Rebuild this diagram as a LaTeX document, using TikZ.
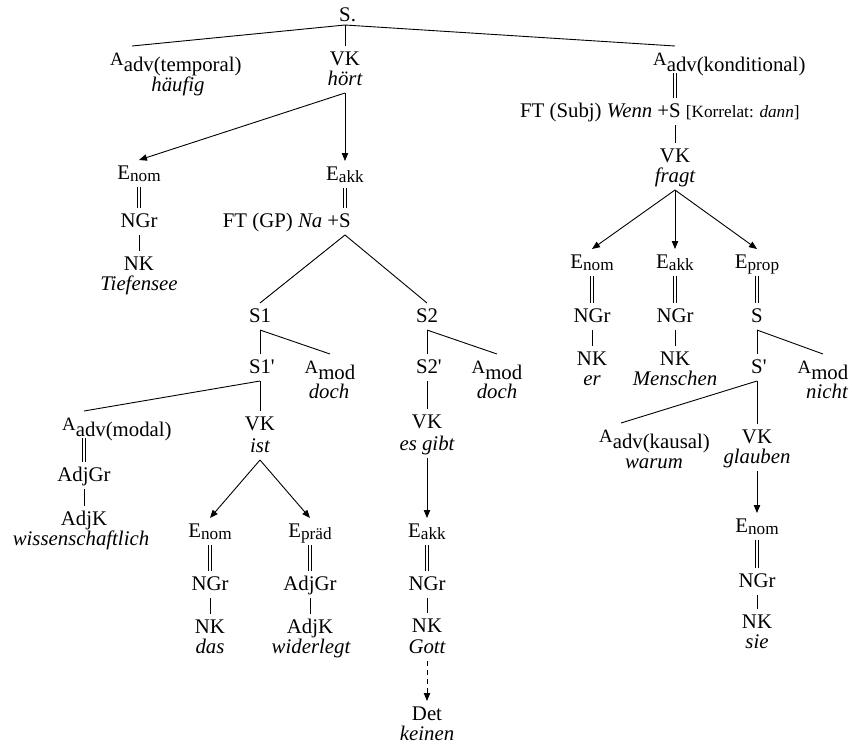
\documentclass[tikz,border=0pt]{standalone}
\usepackage{fontspec}
\setmainfont{Liberation Serif}
\usepackage{tikz}
\usetikzlibrary{arrows.meta}

\newcommand{\catfont}{\fontsize{10.4}{12}\selectfont}
\newcommand{\Esub}[1]{E\raisebox{-1pt}{\fontsize{8.6}{9}\selectfont #1}}
\newcommand{\Asub}[1]{{\fontsize{9.4}{10}\selectfont A}\raisebox{-3pt}{#1}}
\newcommand{\pr}{\rlap{\textquotesingle}}

\tikzset{
  cat/.style={font=\catfont, inner sep=0pt, outer sep=2.5pt,
    text height=7pt, text depth=1.5pt, anchor=base},
  word/.style={cat, font=\catfont\itshape},
  tie/.style={line width=0.45pt},
  equiv/.style={tie, double, double distance=0.9pt},
  dep/.style={tie, -{Triangle[length=4pt, width=3.2pt]}},
  depopt/.style={dep, dash pattern=on 2.5pt off 2pt}
}

\begin{document}
\begin{tikzpicture}[x=0.5pt, y=-0.5pt]
  \useasboundingbox (0,0) rectangle (852,745);

  % main clause
  \node[cat, outer sep=0.5pt] (root) at (345,21) {S\rlap{.}};
  \node[cat] (atemp) at (132,65) {\Asub{adv\rlap{(temporal)}}};
  \node[word] (haeufig) at (178,91) {häufig};
  \node[cat] (vk1) at (345,65) {VK};
  \node[word] (hoert) at (345,85) {hört};
  \node[cat] (akond) at (675,65) {\Asub{adv\rlap{(konditional)}}};

  % subject
  \node[cat] (enom1) at (139,179) {\Esub{nom}};
  \node[cat] (ngr1) at (139,227) {NGr};
  \node[cat] (nk1) at (139,270) {NK};
  \node[word] (tiefensee) at (139,290) {Tiefensee};

  % object clause
  \node[cat] (eakk1) at (345,180) {\Esub{akk}};
  \node[cat] (sgp) at (345,227) {\llap{FT (GP) \textit{Na} +}S};
  \node[cat] (s1) at (260,322) {S1};
  \node[cat] (s2) at (427,322) {S2};

  \node[cat] (s1p) at (260,373) {S1\pr};
  \node[cat] (amod1) at (330,373) {\Asub{mod}};
  \node[word] (doch1) at (329,398) {doch};
  \node[cat] (amodal) at (84,430) {\Asub{adv\rlap{(modal)}}};
  \node[cat] (adjgr1) at (84,481) {AdjGr};
  \node[cat] (adjk1) at (84,525) {AdjK};
  \node[word] (wiss) at (81,545) {wissenschaftlich};
  \node[cat] (vk2) at (260,430) {VK};
  \node[word] (ist) at (260,452) {ist};
  \node[cat] (enom2) at (210,537) {\Esub{nom}};
  \node[cat] (ngr2) at (210,590) {NGr};
  \node[cat] (nk2) at (210,633) {NK};
  \node[word] (das) at (210,653) {das};
  \node[cat] (epraed) at (310,537) {\Esub{präd}};
  \node[cat] (adjgr2) at (310,590) {AdjGr};
  \node[cat] (adjk2) at (310,633) {AdjK};
  \node[word] (widerlegt) at (311,653) {widerlegt};

  \node[cat] (s2p) at (427,373) {S2\pr};
  \node[cat] (amod2) at (497,373) {\Asub{mod}};
  \node[word] (doch2) at (497,398) {doch};
  \node[cat] (vk3) at (427,428) {VK};
  \node[word] (esgibt) at (427,450) {es gibt};
  \node[cat] (eakk2) at (427,537) {\Esub{akk}};
  \node[cat] (ngr3) at (427,590) {NGr};
  \node[cat] (nk3) at (427,632) {NK};
  \node[word] (gott) at (427,653) {Gott};
  \node[cat] (det) at (427,720) {Det};
  \node[word] (keinen) at (427,740) {keinen};

  % conditional clause
  \node[cat] (ssubj) at (675,117)
    {\llap{FT (Subj) \textit{Wenn} +}S\rlap{ {\fontsize{8.6}{9}\selectfont[Korrelat: \textit{dann}]}}};
  \node[cat] (vk4) at (675,162) {VK};
  \node[word] (fragt) at (675,182) {fragt};
  \node[cat] (enom3) at (592,268) {\Esub{nom}};
  \node[cat] (ngr4) at (592,322) {NGr};
  \node[cat] (nk4) at (592,365) {NK};
  \node[word] (er) at (592,385) {er};
  \node[cat] (eakk3) at (675,268) {\Esub{akk}};
  \node[cat] (ngr5) at (675,322) {NGr};
  \node[cat] (nk5) at (675,365) {NK};
  \node[word] (menschen) at (675,385) {Menschen};
  \node[cat] (eprop) at (757,268) {\Esub{prop}};
  \node[cat] (sprop) at (757,322) {S};
  \node[cat] (sp) at (757,373) {S\pr};
  \node[cat] (amod3) at (823,373) {\Asub{mod}};
  \node[word] (nicht) at (827,398) {nicht};
  \node[cat] (akaus) at (621,442) {\Asub{adv\rlap{(kausal)}}};
  \node[word] (warum) at (654,468) {warum};
  \node[cat] (vk5) at (757,443) {VK};
  \node[word] (glauben) at (757,463) {glauben};
  \node[cat] (enom4) at (757,532) {\Esub{nom}};
  \node[cat] (ngr6) at (757,587) {NGr};
  \node[cat] (nk6) at (757,628) {NK};
  \node[word] (sie) at (757,648) {sie};

  % connectors
  \draw[tie] (root.south) -- (atemp.north);
  \draw[tie] (root.south) -- (vk1.north);
  \draw[tie] (root.south) -- (akond.north);
  \draw[dep] (hoert.south) -- (enom1.north);
  \draw[dep] (hoert.south) -- (eakk1.north);
  \draw[equiv] (enom1) -- (ngr1);
  \draw[tie] (ngr1) -- (nk1);
  \draw[equiv] (eakk1.south) -- (sgp.north);
  \draw[tie] (sgp.south) -- (s1.north);
  \draw[tie] (sgp.south) -- (s2.north);
  \draw[tie] (s1.south) -- (s1p.north);
  \draw[tie] (s1.south) -- (amod1.north);
  \draw[tie] (s1p.south) -- (amodal.north);
  \draw[tie] (s1p.south) -- (vk2.north);
  \draw[equiv] (amodal) -- (adjgr1);
  \draw[tie] (adjgr1) -- (adjk1);
  \draw[dep] (ist.south) -- (enom2.north);
  \draw[dep] (ist.south) -- (epraed.north);
  \draw[equiv] (enom2) -- (ngr2);
  \draw[tie] (ngr2) -- (nk2);
  \draw[equiv] (epraed) -- (adjgr2);
  \draw[tie] (adjgr2) -- (adjk2);
  \draw[tie] (s2.south) -- (s2p.north);
  \draw[tie] (s2.south) -- (amod2.north);
  \draw[tie] (s2p) -- (vk3);
  \draw[dep] (esgibt.south) -- (eakk2.north);
  \draw[equiv] (eakk2) -- (ngr3);
  \draw[tie] (ngr3) -- (nk3);
  \draw[depopt] (gott.south) -- (det.north);
  \draw[equiv] (akond.south) -- (ssubj.north);
  \draw[tie] (ssubj.south) -- (vk4.north);
  \draw[dep] (fragt.south) -- (enom3.north);
  \draw[dep] (fragt.south) -- (eakk3.north);
  \draw[dep] (fragt.south) -- (eprop.north);
  \draw[equiv] (enom3) -- (ngr4);
  \draw[tie] (ngr4) -- (nk4);
  \draw[equiv] (eakk3) -- (ngr5);
  \draw[tie] (ngr5) -- (nk5);
  \draw[equiv] (eprop) -- (sprop);
  \draw[tie] (sprop.south) -- (sp.north);
  \draw[tie] (sprop.south) -- (amod3.north);
  \draw[tie] (sp.south) -- (akaus.north);
  \draw[tie] (sp.south) -- (vk5.north);
  \draw[dep] (glauben.south) -- (enom4.north);
  \draw[equiv] (enom4) -- (ngr6);
  \draw[tie] (ngr6) -- (nk6);
\end{tikzpicture}
\end{document}
